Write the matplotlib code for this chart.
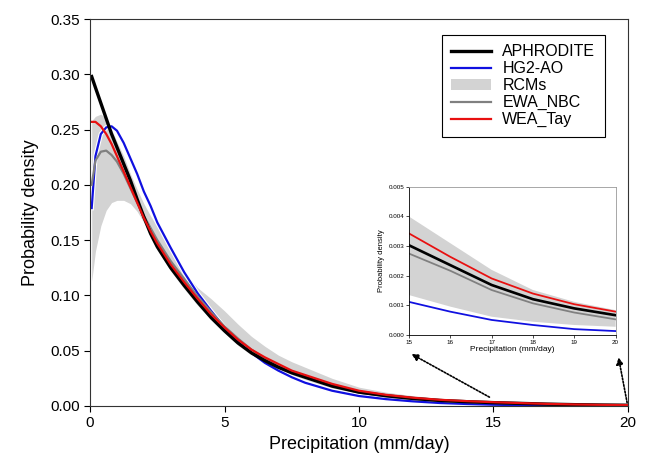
import matplotlib
matplotlib.use("Agg")
import matplotlib.pyplot as plt
import matplotlib.patheffects as pe
from matplotlib.patches import Patch
from matplotlib.lines import Line2D

plt.rcParams['font.family'] = ['Liberation Sans', 'DejaVu Sans']

# precipitation (mm/day) sample points
x = [0.06, 0.2, 0.4, 0.6, 0.8, 1.0, 1.25, 1.5, 1.75, 2.0, 2.25, 2.5, 3.0, 3.5,
     4.0, 4.5, 5.0, 5.5, 6.0, 6.5, 7.0, 7.5, 8.0, 9.0, 10, 11, 12, 13, 14,
     15, 16, 17, 18, 19, 20]

aphrodite = [0.298, 0.288, 0.274, 0.260, 0.246, 0.234, 0.219, 0.204, 0.187, 0.171,
             0.156, 0.144, 0.125, 0.109, 0.094, 0.080, 0.068, 0.057, 0.048, 0.041,
             0.035, 0.030, 0.026, 0.018, 0.0125, 0.0093, 0.0068, 0.0050, 0.0039,
             0.00303, 0.00236, 0.00169, 0.00121, 0.0009, 0.00067]

hg2_ao = [0.179, 0.226, 0.246, 0.252, 0.253, 0.249, 0.238, 0.224, 0.210, 0.194,
          0.181, 0.166, 0.143, 0.121, 0.102, 0.086, 0.071, 0.058, 0.048, 0.039,
          0.032, 0.026, 0.021, 0.0138, 0.0090, 0.0062, 0.0042, 0.0027, 0.0018,
          0.00112, 0.00079, 0.00051, 0.00034, 0.0002, 0.000135]

ewa_nbc = [0.200, 0.222, 0.230, 0.231, 0.227, 0.221, 0.210, 0.197, 0.184, 0.172,
           0.161, 0.150, 0.131, 0.115, 0.099, 0.085, 0.072, 0.061, 0.051, 0.043,
           0.036, 0.031, 0.026, 0.018, 0.0122, 0.0088, 0.0064, 0.0047, 0.0036,
           0.00275, 0.00217, 0.00152, 0.00107, 0.00076, 0.00053]

wea_tay = [0.257, 0.257, 0.253, 0.246, 0.237, 0.226, 0.212, 0.198, 0.184, 0.170,
           0.158, 0.147, 0.128, 0.112, 0.097, 0.083, 0.071, 0.060, 0.051, 0.044,
           0.038, 0.032, 0.028, 0.020, 0.0138, 0.0101, 0.0075, 0.0056, 0.0044,
           0.00343, 0.00264, 0.00191, 0.0014, 0.00104, 0.00079]

rcm_max = [0.258, 0.262, 0.264, 0.260, 0.250, 0.239, 0.226, 0.210, 0.196, 0.183,
           0.172, 0.162, 0.140, 0.121, 0.107, 0.097, 0.086, 0.074, 0.063, 0.054,
           0.046, 0.040, 0.035, 0.025, 0.017, 0.0125, 0.0093, 0.0069, 0.0052,
           0.0040, 0.0031, 0.0022, 0.00152, 0.00112, 0.00084]

rcm_min = [0.113, 0.140, 0.163, 0.177, 0.184, 0.186, 0.186, 0.183, 0.176, 0.166,
           0.153, 0.141, 0.122, 0.106, 0.091, 0.078, 0.066, 0.055, 0.046, 0.039,
           0.033, 0.028, 0.024, 0.016, 0.0105, 0.0072, 0.0048, 0.0031, 0.0020,
           0.00135, 0.00096, 0.00062, 0.00045, 0.00034, 0.00028]

band_col = '#d3d3d3'


def draw(ax, lw_scale=1.0):
    ax.fill_between(x, rcm_min, rcm_max, color=band_col, lw=0)
    ax.plot(x, hg2_ao, color='#1010e0', lw=1.6 * lw_scale,
            path_effects=[pe.withStroke(linewidth=3.2 * lw_scale, foreground='white')])
    ax.plot(x, ewa_nbc, color='#808080', lw=1.6 * lw_scale)
    ax.plot(x, aphrodite, color='black', lw=2.4 * lw_scale)
    ax.plot(x, wea_tay, color='#e81010', lw=1.6 * lw_scale)


fig = plt.figure(figsize=(6.48, 4.59), dpi=100)
ax = fig.add_axes([0.139, 0.1155, 0.830, 0.843])
draw(ax)
ax.set_xlim(0, 20)
ax.set_ylim(0, 0.35)
ax.set_xticks([0, 5, 10, 15, 20])
ax.set_yticks([0, 0.05, 0.10, 0.15, 0.20, 0.25, 0.30, 0.35])
ax.set_yticklabels([f"{v:.2f}" for v in ax.get_yticks()])
ax.tick_params(direction='out', labelsize=11, length=4)
for s in ax.spines.values():
    s.set_color('#333333')
ax.set_xlabel("Precipitation (mm/day)", fontsize=13, labelpad=4)
ax.set_ylabel("Probability density", fontsize=13, labelpad=8)

handles = [Line2D([], [], color='black', lw=2.4),
           Line2D([], [], color='#1010e0', lw=1.6),
           Patch(facecolor=band_col, edgecolor='none'),
           Line2D([], [], color='#808080', lw=1.6),
           Line2D([], [], color='#e81010', lw=1.6)]
labels = ["APHRODITE", "HG2-AO", "RCMs", "EWA_NBC", "WEA_Tay"]
leg = ax.legend(handles, labels, loc='upper right', bbox_to_anchor=(0.972, 0.98),
                fontsize=11.5, frameon=True, fancybox=False, framealpha=1,
                edgecolor='black', handlelength=2.5, labelspacing=0.12,
                borderpad=0.6, handletextpad=0.7)
leg.get_frame().set_linewidth(0.8)

# zoomed inset for the tail
ins = fig.add_axes([0.631, 0.270, 0.319, 0.323])
draw(ins, 0.8)
ins.set_xlim(15, 20)
ins.set_ylim(0, 0.005)
ins.set_xticks([15, 16, 17, 18, 19, 20])
ins.set_yticks([0, 0.001, 0.002, 0.003, 0.004, 0.005])
ins.set_yticklabels([f"{v:.3f}" for v in ins.get_yticks()])
ins.tick_params(direction='out', labelsize=4.5, length=2, width=0.5, pad=1.5)
ins.set_xlabel("Precipitation (mm/day)", fontsize=6, labelpad=1)
ins.set_ylabel("Probability density", fontsize=5.5, labelpad=2)
for side in ['left', 'bottom']:
    ins.spines[side].set_linewidth(0.6)
for side in ['top', 'right']:
    ins.spines[side].set_color('#999999')
    ins.spines[side].set_linewidth(0.6)

arrow = dict(arrowstyle='-|>', linestyle=(0, (1, 1)), color='black', lw=1.2,
             mutation_scale=10, shrinkA=0, shrinkB=0)
ax.annotate("", xy=(11.95, 0.047), xytext=(14.85, 0.008), arrowprops=arrow)
ax.annotate("", xy=(19.65, 0.044), xytext=(19.97, 0.003), arrowprops=arrow)

fig.savefig("out.png", dpi=100)
